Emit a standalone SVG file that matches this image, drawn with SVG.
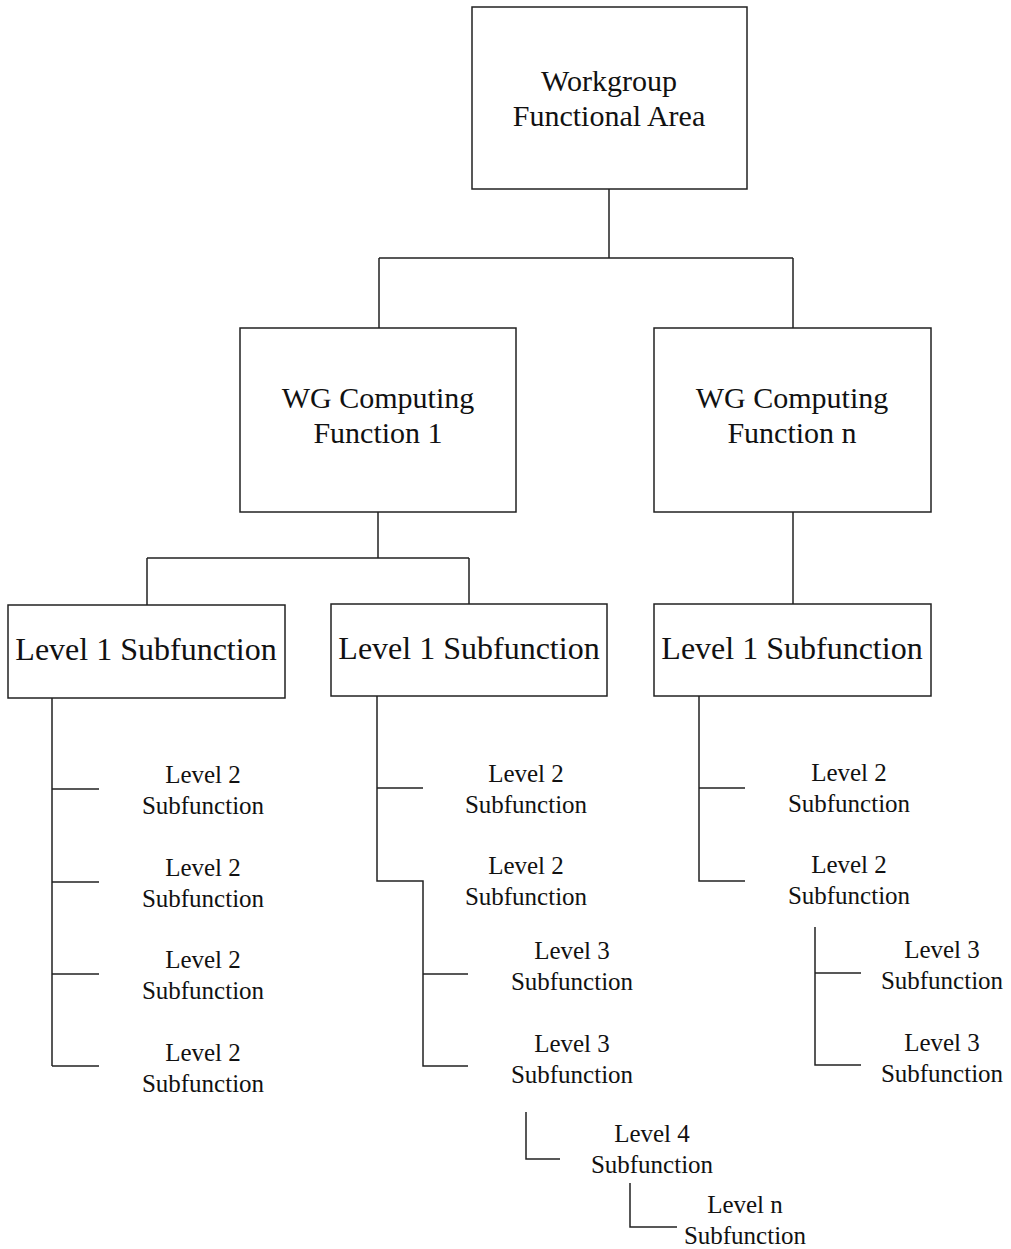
<svg xmlns="http://www.w3.org/2000/svg" width="1011" height="1249" viewBox="0 0 1011 1249">
<style>
.box{fill:#fff;stroke:#222;stroke-width:1.5}
.ln{fill:none;stroke:#222;stroke-width:1.5}
text{font-family:"Liberation Serif","Times New Roman",serif;fill:#111;text-anchor:middle}
.t1{font-size:30px}
.t2{font-size:32px}
.t3{font-size:25px}
</style>
<rect width="1011" height="1249" fill="#fff"/>
<g id="connectors">
<path class="ln" d="M609,189 V258 M379,258 H793 M379,258 V328 M793,258 V328"/>
<path class="ln" d="M378,512 V558 M147,558 H469 M147,558 V605 M469,558 V604"/>
<path class="ln" d="M793,512 V604"/>
<path class="ln" d="M52,698 V1066 M52,789 H99 M52,882 H99 M52,974 H99 M52,1066 H99"/>
<path class="ln" d="M377,696 V881 H423 V1066 H468 M377,788 H423 M423,974 H468"/>
<path class="ln" d="M526,1112 V1159 H560"/>
<path class="ln" d="M630,1183 V1227 H677"/>
<path class="ln" d="M699,696 V881 H745 M699,788 H745"/>
<path class="ln" d="M815,927 V1065 H861 M815,973 H861"/>
</g>
<g id="n-top"><rect class="box" x="472" y="7" width="275" height="182"/><text class="t1" x="609" y="91">Workgroup</text><text class="t1" x="609" y="126">Functional Area</text></g>
<g id="n-f1"><rect class="box" x="240" y="328" width="276" height="184"/><text class="t1" x="378" y="408">WG Computing</text><text class="t1" x="378" y="443">Function 1</text></g>
<g id="n-fn"><rect class="box" x="654" y="328" width="277" height="184"/><text class="t1" x="792" y="408">WG Computing</text><text class="t1" x="792" y="443">Function n</text></g>
<g id="n-l1a"><rect class="box" x="8" y="605" width="277" height="93"/><text class="t2" x="146" y="660">Level 1 Subfunction</text></g>
<g id="n-l1b"><rect class="box" x="331" y="604" width="276" height="92"/><text class="t2" x="469" y="659">Level 1 Subfunction</text></g>
<g id="n-l1c"><rect class="box" x="654" y="604" width="277" height="92"/><text class="t2" x="792" y="659">Level 1 Subfunction</text></g>
<g id="n-a2a"><text class="t3" x="203" y="783">Level 2</text><text class="t3" x="203" y="814">Subfunction</text></g>
<g id="n-a2b"><text class="t3" x="203" y="876">Level 2</text><text class="t3" x="203" y="907">Subfunction</text></g>
<g id="n-a2c"><text class="t3" x="203" y="968">Level 2</text><text class="t3" x="203" y="999">Subfunction</text></g>
<g id="n-a2d"><text class="t3" x="203" y="1061">Level 2</text><text class="t3" x="203" y="1092">Subfunction</text></g>
<g id="n-b2a"><text class="t3" x="526" y="782">Level 2</text><text class="t3" x="526" y="813">Subfunction</text></g>
<g id="n-b2b"><text class="t3" x="526" y="874">Level 2</text><text class="t3" x="526" y="905">Subfunction</text></g>
<g id="n-b3a"><text class="t3" x="572" y="959">Level 3</text><text class="t3" x="572" y="990">Subfunction</text></g>
<g id="n-b3b"><text class="t3" x="572" y="1052">Level 3</text><text class="t3" x="572" y="1083">Subfunction</text></g>
<g id="n-b4"><text class="t3" x="652" y="1142">Level 4</text><text class="t3" x="652" y="1173">Subfunction</text></g>
<g id="n-bn"><text class="t3" x="745" y="1213">Level n</text><text class="t3" x="745" y="1244">Subfunction</text></g>
<g id="n-c2a"><text class="t3" x="849" y="781">Level 2</text><text class="t3" x="849" y="812">Subfunction</text></g>
<g id="n-c2b"><text class="t3" x="849" y="873">Level 2</text><text class="t3" x="849" y="904">Subfunction</text></g>
<g id="n-c3a"><text class="t3" x="942" y="958">Level 3</text><text class="t3" x="942" y="989">Subfunction</text></g>
<g id="n-c3b"><text class="t3" x="942" y="1051">Level 3</text><text class="t3" x="942" y="1082">Subfunction</text></g>
</svg>
